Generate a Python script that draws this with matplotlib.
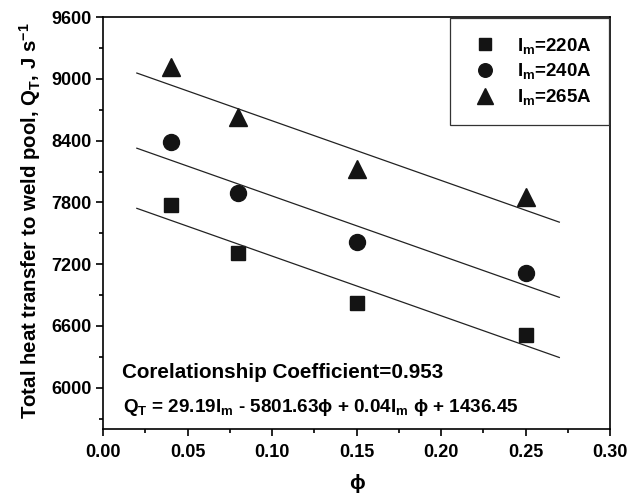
import matplotlib
matplotlib.use("Agg")
import matplotlib.pyplot as plt
from matplotlib.ticker import MultipleLocator, FormatStrFormatter
import numpy as np

plt.rcParams['font.family'] = ['Liberation Sans', 'DejaVu Sans']
plt.rcParams['font.weight'] = 'bold'
plt.rcParams['mathtext.fontset'] = 'custom'
plt.rcParams['mathtext.rm'] = 'Liberation Sans:bold'
plt.rcParams['mathtext.it'] = 'Liberation Sans:bold'
plt.rcParams['mathtext.bf'] = 'Liberation Sans:bold'
plt.rcParams['mathtext.sf'] = 'Liberation Sans:bold'
plt.rcParams['mathtext.fallback'] = 'stixsans'

# measured points: heat transfer vs phi for three welding currents
phi = [0.04, 0.08, 0.15, 0.25]
currents = [220, 240, 265]
q_220 = [7770, 7305, 6820, 6510]
q_240 = [8390, 7895, 7412, 7112]
q_265 = [9112, 8628, 8128, 7852]
series = [q_220, q_240, q_265]
markers = ['s', 'o', '^']
sizes = [10.5, 11.5, 13]

# regression coefficients (QT = a*Im + b*phi + c*Im*phi + d)
a, b, c, d = 29.19, -5801.63, 0.04, 1436.45
phi_fit = np.array([0.02, 0.27])

fig = plt.figure(figsize=(6.29, 4.96), dpi=100)
ax = fig.add_axes([0.1638, 0.1351, 0.806, 0.8306])

for cur, q, m, ms in zip(currents, series, markers, sizes):
    ax.plot(phi, q, linestyle='none', marker=m, markersize=ms,
            color='#141414', label=r"$I_m$=%dA" % cur)
    ax.plot(phi_fit, a * cur + b * phi_fit + c * cur * phi_fit + d,
            color='#222222', lw=0.9)

ax.set_xlim(0, 0.30)
ax.set_ylim(5600, 9600)
ax.xaxis.set_major_locator(MultipleLocator(0.05))
ax.xaxis.set_minor_locator(MultipleLocator(0.025))
ax.yaxis.set_major_locator(MultipleLocator(600))
ax.yaxis.set_minor_locator(MultipleLocator(300))
ax.set_yticks(np.arange(6000, 9601, 600))
ax.xaxis.set_major_formatter(FormatStrFormatter('%.2f'))
ax.tick_params(which='major', direction='out', length=5, width=1.2,
               labelsize=13, top=False, right=False)
ax.tick_params(which='minor', direction='out', length=3, width=1.2,
               top=False, right=False)
ax.tick_params(axis='x', which='major', pad=6)
ax.tick_params(axis='y', which='major', pad=3)
for lbl in ax.get_xticklabels() + ax.get_yticklabels():
    lbl.set_fontweight('bold')
for sp in ax.spines.values():
    sp.set_linewidth(1.2)

ax.set_xlabel("ϕ", fontsize=15, fontweight='bold', labelpad=9)
ax.set_ylabel(r"Total heat transfer to weld pool, Q$_T$, J s$^{-1}$",
              fontsize=14.7, fontweight='bold', labelpad=6)
ax.yaxis.label.set_y(0.505)

ax.text(0.037, 0.123, "Corelationship Coefficient=0.953", transform=ax.transAxes,
        fontsize=14.9, fontweight='bold', va='baseline')
ax.text(0.039, 0.042, r"Q$_T$ = 29.19I$_m$ - 5801.63ϕ + 0.04I$_m$ ϕ + 1436.45",
        transform=ax.transAxes, fontsize=13.6, fontweight='bold', va='baseline')

leg = ax.legend(loc='upper right', bbox_to_anchor=(0.998, 0.9976), fancybox=False,
                edgecolor='#333333', framealpha=1, fontsize=13.5, markerscale=0.85,
                handletextpad=0.8, borderpad=0.95, labelspacing=0.3,
                handlelength=1.8, borderaxespad=0)
leg.get_frame().set_linewidth(0.9)

fig.savefig("out.png", dpi=100)
